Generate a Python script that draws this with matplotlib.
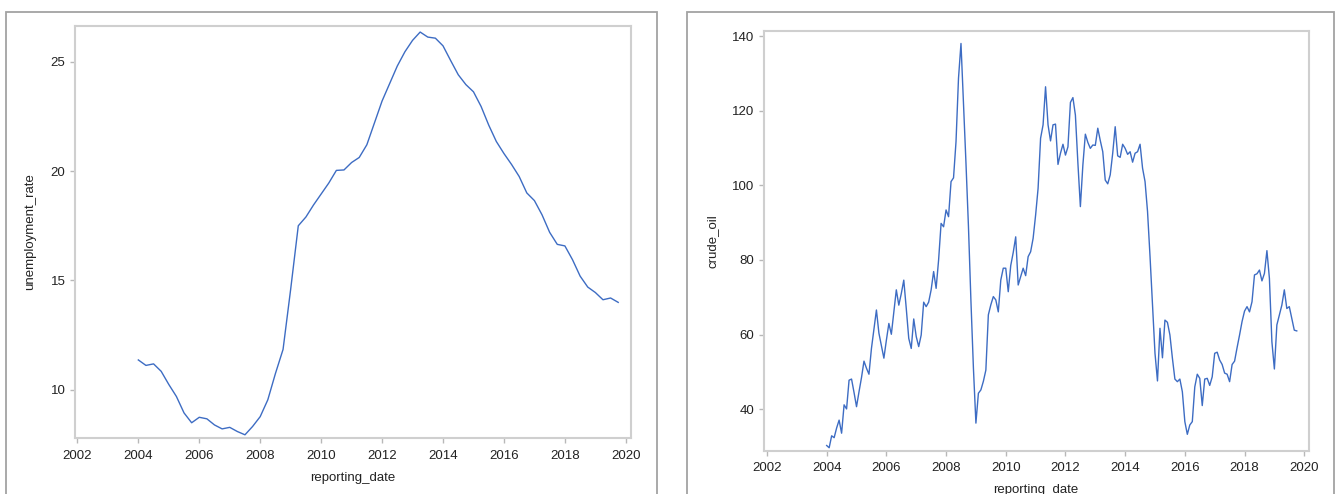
import pandas as pd
import matplotlib.pyplot as plt
from matplotlib.patches import Rectangle
from matplotlib.ticker import MultipleLocator

plt.rcParams['font.family'] = ['Liberation Sans', 'DejaVu Sans']

# quarterly unemployment rate, 2004Q1 .. 2019Q4
unemp_dates = pd.date_range('2004-01-01', periods=64, freq='QS')
unemployment_rate = [
    11.37, 11.12, 11.19, 10.85, 10.25, 9.70, 8.95, 8.50,
    8.75, 8.68, 8.40, 8.22, 8.29, 8.10, 7.95, 8.33,
    8.78, 9.55, 10.75, 11.85, 14.60, 17.50, 17.90, 18.45,
    18.95, 19.45, 20.03, 20.05, 20.39, 20.62, 21.20, 22.20,
    23.20, 24.00, 24.80, 25.45, 25.97, 26.35, 26.12, 26.07,
    25.72, 25.05, 24.40, 23.95, 23.62, 22.95, 22.10, 21.35,
    20.80, 20.30, 19.75, 19.00, 18.65, 18.00, 17.20, 16.65,
    16.58, 15.95, 15.20, 14.70, 14.45, 14.12, 14.20, 14.00,
]

# monthly crude oil price, Jan 2004 .. Oct 2019
oil_dates = pd.date_range('2004-01-01', periods=190, freq='MS')
crude_oil = [
    30.3, 29.7, 32.9, 32.4, 35.0, 37.1, 33.6, 41.2, 40.1, 47.8, 48.1, 44.5,
    40.7, 44.7, 48.5, 52.9, 51.0, 49.4, 56.3, 61.5, 66.6, 60.4, 57.0, 53.7,
    58.5, 63.0, 60.1, 66.0, 72.0, 67.9, 71.0, 74.6, 67.0, 59.0, 56.3, 64.2,
    59.5, 56.8, 59.9, 68.7, 67.5, 68.7, 72.0, 76.9, 72.4, 80.0, 89.8, 88.9,
    93.4, 91.6, 101.0, 102.0, 111.7, 128.7, 138.0, 122.0, 106.0, 89.0, 69.0, 51.0,
    36.3, 44.3, 45.2, 47.5, 50.5, 65.3, 68.0, 70.2, 69.3, 66.1, 74.6, 77.8,
    77.8, 71.5, 78.5, 82.0, 86.2, 73.3, 75.5, 77.8, 75.8, 80.9, 82.2, 85.8,
    92.0, 99.2, 112.6, 116.2, 126.4, 116.2, 111.9, 116.2, 116.4, 105.6, 108.6, 111.0,
    108.1, 110.3, 122.2, 123.5, 118.8, 106.0, 94.3, 105.4, 113.7, 111.5, 109.9, 110.8,
    110.7, 115.3, 112.0, 109.0, 101.4, 100.4, 102.8, 108.6, 115.7, 107.9, 107.5, 111.0,
    109.9, 108.3, 109.0, 106.2, 108.6, 109.0, 111.0, 104.6, 101.0, 93.0, 81.0, 68.0,
    55.0, 47.6, 61.7, 53.8, 63.9, 63.3, 59.9, 53.7, 48.1, 47.4, 48.1, 44.7,
    36.7, 33.3, 35.8, 36.7, 46.0, 49.4, 48.3, 41.0, 48.1, 48.3, 46.4, 48.7,
    55.0, 55.3, 53.2, 52.0, 49.7, 49.4, 47.4, 52.0, 52.9, 56.5, 59.9, 63.5,
    66.3, 67.5, 66.1, 68.8, 76.0, 76.3, 77.3, 74.4, 76.4, 82.5, 75.1, 58.1,
    50.8, 62.6, 65.3, 67.9, 72.0, 67.0, 67.5, 64.4, 61.2, 61.0,
]

def decimal_year(dates):
    return dates.year + (dates.month - 1) / 12

LINE = '#3d6cc3'
FRAME = '#cfcfcf'
TEXT = '#222222'
FS = 9.5
W, H = 1338, 494

fig = plt.figure(figsize=(W / 100, H / 100), dpi=100)

# outer panel borders
for x0, x1, top in [(6.4, 657.4, 12.3), (687.0, 1334.0, 11.7)]:
    fig.patches.append(Rectangle((x0 / W, -0.1), (x1 - x0) / W, 0.1 + 1 - top / H,
                                 transform=fig.transFigure, fill=False,
                                 edgecolor='#a3a3a3', linewidth=1.3))


def style(ax):
    for s in ax.spines.values():
        s.set_color(FRAME)
        s.set_linewidth(1.5)
    ax.tick_params(direction='out', length=3.6, width=1.0, color='#b8b8b8',
                   labelcolor=TEXT, labelsize=FS, pad=3.2)
    ax.tick_params(axis='x', pad=4.5)
    ax.xaxis.set_major_locator(MultipleLocator(2))


# left: unemployment rate
ax1 = fig.add_axes([74.8 / W, 1 - 438.3 / H, (631 - 74.8) / W, (438.3 - 25.7) / H])
ax1.plot(decimal_year(unemp_dates), unemployment_rate, color=LINE, lw=1.0)
ax1.set_xlim(2001.915, 2020.17)
ax1.set_ylim(7.79, 26.64)
ax1.yaxis.set_major_locator(MultipleLocator(5))
style(ax1)
fig.text(30 / W, 1 - 232 / H, 'unemployment_rate', rotation=90, ha='center', va='center',
         fontsize=FS, color=TEXT)
fig.text(353 / W, 1 - 478 / H, 'reporting_date', ha='center', va='center',
         fontsize=FS, color=TEXT)

# right: crude oil
ax2 = fig.add_axes([763.7 / W, 1 - 451 / H, (1309.3 - 763.7) / W, (451 - 31) / H])
ax2.plot(decimal_year(oil_dates), crude_oil, color=LINE, lw=1.0)
ax2.set_xlim(2001.89, 2020.17)
ax2.set_ylim(28.83, 141.34)
ax2.yaxis.set_major_locator(MultipleLocator(20))
style(ax2)
fig.text(712.6 / W, 1 - 241 / H, 'crude_oil', rotation=90, ha='center', va='center',
         fontsize=FS, color=TEXT)
fig.text(1036 / W, 1 - 490 / H, 'reporting_date', ha='center', va='center',
         fontsize=FS, color=TEXT)

fig.savefig('out.png', dpi=100)
